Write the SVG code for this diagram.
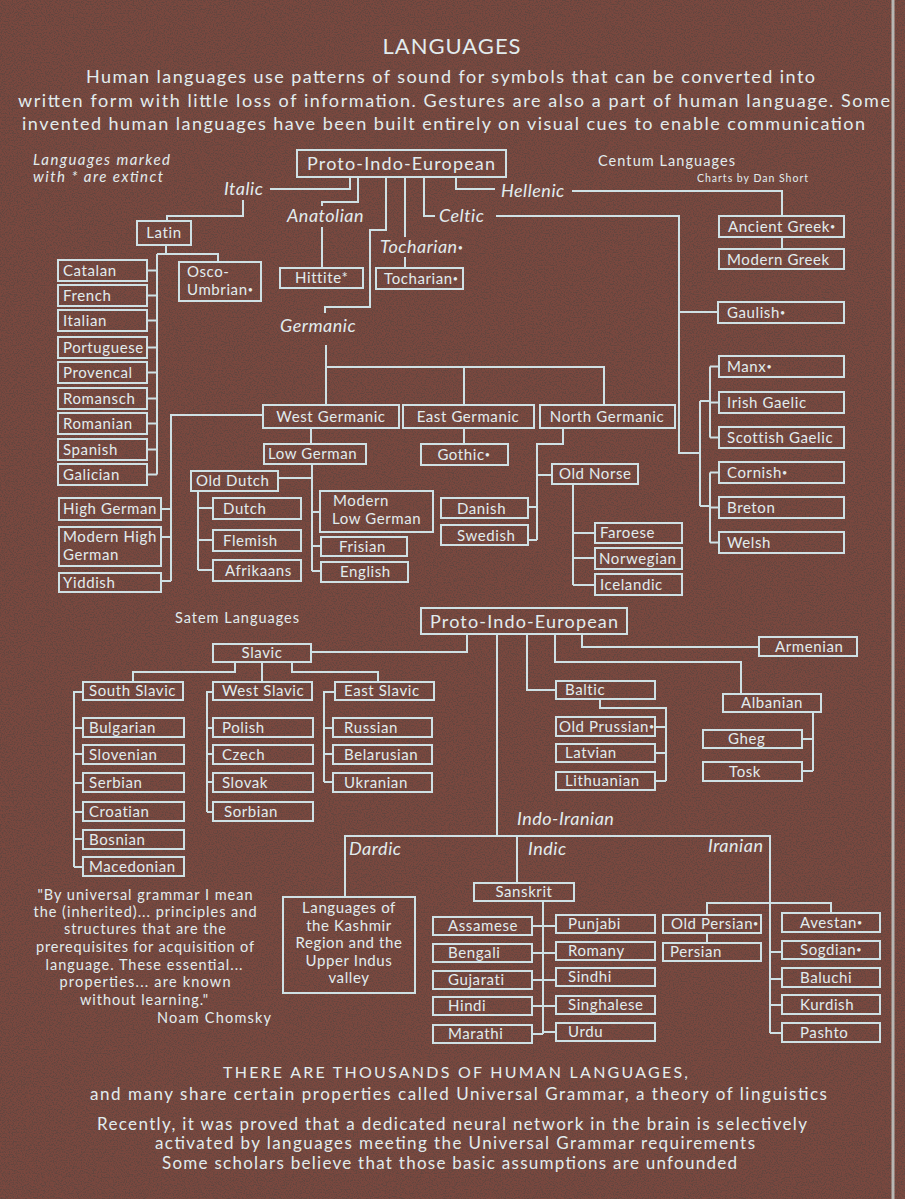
<svg xmlns="http://www.w3.org/2000/svg" width="905" height="1199" viewBox="0 0 905 1199">
<defs>
<filter id="granite" x="0" y="0" width="100%" height="100%">
<feTurbulence type="fractalNoise" baseFrequency="0.75" numOctaves="2" seed="7" result="n"/>
<feColorMatrix in="n" type="matrix" values="0 0 0 0 0.10  0 0 0 0 0.06  0 0 0 0 0.05  -4 0 0 0 2.25" result="dark"/>
<feColorMatrix in="n" type="matrix" values="0 0 0 0 0.72  0 0 0 0 0.45  0 0 0 0 0.40  0 -4 0 0 -1.9" result="light"/>
<feMerge><feMergeNode in="dark"/><feMergeNode in="light"/></feMerge>
</filter>
<style>
.bx{fill:none;stroke:#cfe1e5;stroke-width:2}
.cn path{fill:none;stroke:#cfe1e5;stroke-width:2}
text{font-family:Lato,"Open Sans","Liberation Sans",sans-serif;fill:#e2ecee}
.t{font-size:15px;letter-spacing:0.6px}
.c{text-anchor:middle}
.it{font-size:18px;font-style:italic;letter-spacing:0.5px}
.hd{font-size:18px}
.sm{font-size:14.5px}
.d{font-size:9px;baseline-shift:2px}
</style>
</defs>
<rect x="0" y="0" width="905" height="1199" fill="#7a483f"/>
<rect x="0" y="0" width="905" height="1199" filter="url(#granite)" opacity="0.7"/>
<line x1="893" y1="0" x2="893" y2="1199" stroke="#c9d2cf" stroke-width="3" opacity="0.8"/>

<g id="header">
<text x="452" y="54" text-anchor="middle" style="font-size:22px;letter-spacing:1px">LANGUAGES</text>
<text x="86" y="83" class="hd" textLength="729">Human languages use patterns of sound for symbols that can be converted into</text>
<text x="18" y="107" class="hd" textLength="872">written form with little loss of information. Gestures are also a part of human language. Some</text>
<text x="22" y="130" class="hd" textLength="843">invented human languages have been built entirely on visual cues to enable communication</text>
</g>

<g id="legend">
<text x="33" y="165" style="font-size:15px;font-style:italic" textLength="137">Languages marked</text>
<text x="33" y="182" style="font-size:15px;font-style:italic" textLength="130">with * are extinct</text>
<text x="598" y="166" class="sm" textLength="137">Centum Languages</text>
<text x="697" y="182" style="font-size:10.5px" textLength="111">Charts by Dan Short</text>
<text x="175" y="623" class="sm" textLength="124">Satem Languages</text>
</g>

<g class="cn" id="connectors">
<path d="M350,177 V189 H270"/>
<path d="M243,200 V216 H167 V221"/>
<path d="M166,245 V254 M157,254 H218 V262 M157,254 V474.5"/>
<path d="M147,270.5 H157 M147,295.5 H157 M147,320.5 H157 M147,347.5 H157 M147,372.5 H157 M147,398.5 H157 M147,423.5 H157 M147,449.5 H157 M147,474.5 H157"/>
<path d="M358,177 V202 H322 V206 M322,227 V268"/>
<path d="M386,177 V230 H370 V307 H325 V313"/>
<path d="M405,177 V237 M405,257 V268"/>
<path d="M424,177 V216 H435 M496,216 H679 V453 H700 M679,312 H718"/>
<path d="M700,401 V506 M700,401 H710 M710,366.5 V437.5 M710,366.5 H719 M710,402.5 H719 M710,437.5 H719"/>
<path d="M700,506 H710 M710,472.5 V542.5 M710,472.5 H719 M710,507.5 H719 M710,542.5 H719"/>
<path d="M456,177 V189 H495 M572,191 H782 V216 M782,237 V249"/>
<path d="M326,345 V405 M326,367 H604 V405 M464,367 V405"/>
<path d="M311,428 V444"/>
<path d="M263,415 H171 V581 M161,509 H171 M161,537 H171 M161,581 H171"/>
<path d="M312,464 V571 M278,478 H312 M312,512 H320 M312,546 H321 M312,571 H321"/>
<path d="M198,491 V570 M198,508 H213 M198,540 H213 M198,570 H213"/>
<path d="M464,428 V444"/>
<path d="M563,428 V444 H537 V540 M537,475 H552 M528,507 H537 M528,540 H537"/>
<path d="M573,484 V585 M573,533 H595 M573,558 H595 M573,585 H595"/>
<path d="M467,634 V652 H311"/>
<path d="M497,634 V836"/>
<path d="M527,634 V690 H556"/>
<path d="M555,634 V662 H741 V694"/>
<path d="M582,634 V647 H759"/>
<path d="M600,699 V708 H666 V781 M655,727 H666 M655,753 H666 M655,781 H666"/>
<path d="M813,712 V771 M802,739 H813 M802,771 H813"/>
<path d="M235,662 V672 H133 V682 M262,662 V682 M292,662 V672 H378 V682"/>
<path d="M83,692 H74 V867 M74,728 H83 M74,754 H83 M74,783 H83 M74,812 H83 M74,839 H83 M74,867 H83"/>
<path d="M213,692 H207 V812 M207,728 H213 M207,754 H213 M207,782 H213 M207,812 H213"/>
<path d="M335,692 H324 V782 M324,728 H333 M324,754 H333 M324,782 H333"/>
<path d="M345,897 V836 H770 V1033 M517,836 V883"/>
<path d="M543,901 V1034 M532,926 H556 M532,953 H556 M532,980 H556 M532,1006 H556 M532,1034 H543 M543,1032 H556"/>
<path d="M707,915 V903 H831 V913 M707,933 V943 M770,952 H782 M770,979 H782 M770,1005 H782 M770,1033 H782"/>
</g>

<g id="labels">
<text x="224" y="195" class="it">Italic</text>
<text x="287" y="222" class="it">Anatolian</text>
<text x="380" y="253" class="it">Tocharian<tspan class="d">•</tspan></text>
<text x="439" y="222" class="it">Celtic</text>
<text x="501" y="197" class="it">Hellenic</text>
<text x="280" y="332" class="it">Germanic</text>
<text x="517" y="825" class="it">Indo-Iranian</text>
<text x="349" y="855" class="it">Dardic</text>
<text x="528" y="855" class="it">Indic</text>
<text x="708" y="852" class="it">Iranian</text>
</g>

<g id="pie-centum"><rect class="bx" x="297" y="150" width="209" height="27"/><text x="401" y="170" class="c" style="font-size:18px" textLength="188">Proto-Indo-European</text></g>
<g id="latin"><rect class="bx" x="137" y="221" width="54" height="24"/><text x="164" y="238" class="t c">Latin</text></g>
<g id="osco-umbrian"><rect class="bx" x="179" y="262" width="82" height="39"/><text x="187" y="277" class="t">Osco-</text><text x="187" y="295" class="t">Umbrian<tspan class="d">•</tspan></text></g>
<g id="catalan"><rect class="bx" x="58" y="260" width="89" height="21"/><text x="63" y="276" class="t">Catalan</text></g>
<g id="french"><rect class="bx" x="58" y="285" width="89" height="21"/><text x="63" y="301" class="t">French</text></g>
<g id="italian"><rect class="bx" x="58" y="310" width="89" height="21"/><text x="63" y="326" class="t">Italian</text></g>
<g id="portuguese"><rect class="bx" x="58" y="337" width="89" height="21"/><text x="63" y="353" class="t">Portuguese</text></g>
<g id="provencal"><rect class="bx" x="58" y="362" width="89" height="21"/><text x="63" y="378" class="t">Provencal</text></g>
<g id="romansch"><rect class="bx" x="58" y="388" width="89" height="21"/><text x="63" y="404" class="t">Romansch</text></g>
<g id="romanian"><rect class="bx" x="58" y="413" width="89" height="21"/><text x="63" y="429" class="t">Romanian</text></g>
<g id="spanish"><rect class="bx" x="58" y="439" width="89" height="21"/><text x="63" y="455" class="t">Spanish</text></g>
<g id="galician"><rect class="bx" x="58" y="464" width="89" height="21"/><text x="63" y="480" class="t">Galician</text></g>
<g id="hittite"><rect class="bx" x="280" y="268" width="83" height="20"/><text x="295" y="283" class="t">Hittite*</text></g>
<g id="tocharian"><rect class="bx" x="376" y="268" width="87" height="21"/><text x="384" y="284" class="t">Tocharian<tspan class="d">•</tspan></text></g>
<g id="ancient-greek"><rect class="bx" x="719" y="216" width="125" height="21"/><text x="728" y="232" class="t">Ancient Greek<tspan class="d">•</tspan></text></g>
<g id="modern-greek"><rect class="bx" x="719" y="249" width="125" height="20"/><text x="727" y="265" class="t">Modern Greek</text></g>
<g id="gaulish"><rect class="bx" x="718" y="302" width="126" height="21"/><text x="727" y="318" class="t">Gaulish<tspan class="d">•</tspan></text></g>
<g id="manx"><rect class="bx" x="719" y="356" width="125" height="21"/><text x="727" y="372" class="t">Manx<tspan class="d">•</tspan></text></g>
<g id="irish-gaelic"><rect class="bx" x="719" y="392" width="125" height="21"/><text x="727" y="408" class="t">Irish Gaelic</text></g>
<g id="scottish-gaelic"><rect class="bx" x="719" y="427" width="125" height="21"/><text x="727" y="443" class="t">Scottish Gaelic</text></g>
<g id="cornish"><rect class="bx" x="719" y="462" width="125" height="21"/><text x="727" y="478" class="t">Cornish<tspan class="d">•</tspan></text></g>
<g id="breton"><rect class="bx" x="719" y="497" width="125" height="21"/><text x="727" y="513" class="t">Breton</text></g>
<g id="welsh"><rect class="bx" x="719" y="532" width="125" height="21"/><text x="727" y="548" class="t">Welsh</text></g>

<g id="west-germanic"><rect class="bx" x="263" y="405" width="136" height="23"/><text x="331" y="422" class="t c">West Germanic</text></g>
<g id="east-germanic"><rect class="bx" x="403" y="405" width="131" height="23"/><text x="468" y="422" class="t c">East Germanic</text></g>
<g id="north-germanic"><rect class="bx" x="540" y="405" width="135" height="23"/><text x="607" y="422" class="t c">North Germanic</text></g>
<g id="low-german"><rect class="bx" x="264" y="444" width="102" height="20"/><text x="268" y="459" class="t">Low German</text></g>
<g id="gothic"><rect class="bx" x="421" y="444" width="87" height="21"/><text x="464" y="460" class="t c">Gothic<tspan class="d">•</tspan></text></g>
<g id="old-dutch"><rect class="bx" x="191" y="471" width="87" height="20"/><text x="196" y="486" class="t">Old Dutch</text></g>
<g id="dutch"><rect class="bx" x="213" y="498" width="88" height="21"/><text x="223" y="514" class="t">Dutch</text></g>
<g id="flemish"><rect class="bx" x="213" y="530" width="88" height="21"/><text x="223" y="546" class="t">Flemish</text></g>
<g id="afrikaans"><rect class="bx" x="213" y="560" width="88" height="21"/><text x="225" y="576" class="t">Afrikaans</text></g>
<g id="modern-low-german"><rect class="bx" x="320" y="491" width="113" height="41"/><text x="333" y="506" class="t">Modern</text><text x="332" y="524" class="t">Low German</text></g>
<g id="frisian"><rect class="bx" x="321" y="537" width="86" height="19"/><text x="339" y="552" class="t">Frisian</text></g>
<g id="english"><rect class="bx" x="321" y="562" width="87" height="20"/><text x="340" y="577" class="t">English</text></g>
<g id="high-german"><rect class="bx" x="59" y="498" width="102" height="22"/><text x="63" y="514" class="t">High German</text></g>
<g id="modern-high-german"><rect class="bx" x="59" y="527" width="102" height="39"/><text x="63" y="542" class="t">Modern High</text><text x="63" y="560" class="t">German</text></g>
<g id="yiddish"><rect class="bx" x="59" y="573" width="102" height="19"/><text x="63" y="588" class="t">Yiddish</text></g>
<g id="old-norse"><rect class="bx" x="552" y="464" width="86" height="20"/><text x="559" y="479" class="t">Old Norse</text></g>
<g id="danish"><rect class="bx" x="441" y="498" width="87" height="20"/><text x="457" y="514" class="t">Danish</text></g>
<g id="swedish"><rect class="bx" x="441" y="525" width="87" height="20"/><text x="457" y="541" class="t">Swedish</text></g>
<g id="faroese"><rect class="bx" x="595" y="523" width="87" height="20"/><text x="600" y="538" class="t">Faroese</text></g>
<g id="norwegian"><rect class="bx" x="595" y="548" width="87" height="21"/><text x="599" y="564" class="t">Norwegian</text></g>
<g id="icelandic"><rect class="bx" x="595" y="574" width="87" height="21"/><text x="600" y="590" class="t">Icelandic</text></g>

<g id="pie-satem"><rect class="bx" x="421" y="608" width="206" height="26"/><text x="524" y="628" class="c" style="font-size:18px" textLength="188">Proto-Indo-European</text></g>
<g id="slavic"><rect class="bx" x="213" y="644" width="98" height="18"/><text x="262" y="658" class="t c">Slavic</text></g>
<g id="armenian"><rect class="bx" x="759" y="637" width="98" height="19"/><text x="775" y="652" class="t">Armenian</text></g>
<g id="baltic"><rect class="bx" x="556" y="681" width="99" height="18"/><text x="565" y="695" class="t">Baltic</text></g>
<g id="albanian"><rect class="bx" x="723" y="694" width="98" height="18"/><text x="772" y="708" class="t c">Albanian</text></g>
<g id="old-prussian"><rect class="bx" x="556" y="717" width="99" height="19"/><text x="559" y="732" class="t">Old Prussian<tspan class="d">•</tspan></text></g>
<g id="latvian"><rect class="bx" x="556" y="744" width="99" height="18"/><text x="565" y="758" class="t">Latvian</text></g>
<g id="lithuanian"><rect class="bx" x="556" y="772" width="99" height="18"/><text x="565" y="786" class="t">Lithuanian</text></g>
<g id="gheg"><rect class="bx" x="703" y="730" width="99" height="18"/><text x="728" y="744" class="t">Gheg</text></g>
<g id="tosk"><rect class="bx" x="703" y="762" width="99" height="19"/><text x="729" y="777" class="t">Tosk</text></g>
<g id="south-slavic"><rect class="bx" x="83" y="682" width="100" height="18"/><text x="89" y="696" class="t">South Slavic</text></g>
<g id="west-slavic"><rect class="bx" x="213" y="682" width="99" height="18"/><text x="222" y="696" class="t">West Slavic</text></g>
<g id="east-slavic"><rect class="bx" x="335" y="682" width="99" height="18"/><text x="344" y="696" class="t">East Slavic</text></g>
<g id="bulgarian"><rect class="bx" x="83" y="718" width="101" height="19"/><text x="89" y="733" class="t">Bulgarian</text></g>
<g id="slovenian"><rect class="bx" x="83" y="745" width="101" height="19"/><text x="89" y="760" class="t">Slovenian</text></g>
<g id="serbian"><rect class="bx" x="83" y="773" width="101" height="19"/><text x="89" y="788" class="t">Serbian</text></g>
<g id="croatian"><rect class="bx" x="83" y="802" width="101" height="19"/><text x="89" y="817" class="t">Croatian</text></g>
<g id="bosnian"><rect class="bx" x="83" y="830" width="101" height="19"/><text x="89" y="845" class="t">Bosnian</text></g>
<g id="macedonian"><rect class="bx" x="83" y="857" width="101" height="19"/><text x="89" y="872" class="t">Macedonian</text></g>
<g id="polish"><rect class="bx" x="213" y="718" width="100" height="19"/><text x="222" y="733" class="t">Polish</text></g>
<g id="czech"><rect class="bx" x="213" y="745" width="100" height="19"/><text x="222" y="760" class="t">Czech</text></g>
<g id="slovak"><rect class="bx" x="213" y="773" width="100" height="19"/><text x="222" y="788" class="t">Slovak</text></g>
<g id="sorbian"><rect class="bx" x="213" y="802" width="100" height="19"/><text x="224" y="817" class="t">Sorbian</text></g>
<g id="russian"><rect class="bx" x="333" y="718" width="99" height="19"/><text x="344" y="733" class="t">Russian</text></g>
<g id="belarusian"><rect class="bx" x="333" y="745" width="99" height="19"/><text x="344" y="760" class="t">Belarusian</text></g>
<g id="ukranian"><rect class="bx" x="333" y="773" width="99" height="19"/><text x="344" y="788" class="t">Ukranian</text></g>

<g id="dardic-box"><rect class="bx" x="283" y="897" width="132" height="96"/>
<text x="349" y="913" class="t c">Languages of</text>
<text x="349" y="931" class="t c">the Kashmir</text>
<text x="349" y="948" class="t c">Region and the</text>
<text x="349" y="966" class="t c">Upper Indus</text>
<text x="349" y="983" class="t c">valley</text></g>
<g id="sanskrit"><rect class="bx" x="474" y="883" width="100" height="18"/><text x="524" y="897" class="t c">Sanskrit</text></g>
<g id="assamese"><rect class="bx" x="433" y="917" width="99" height="18"/><text x="448" y="931" class="t">Assamese</text></g>
<g id="bengali"><rect class="bx" x="433" y="944" width="99" height="18"/><text x="448" y="958" class="t">Bengali</text></g>
<g id="gujarati"><rect class="bx" x="433" y="971" width="99" height="18"/><text x="448" y="985" class="t">Gujarati</text></g>
<g id="hindi"><rect class="bx" x="433" y="997" width="99" height="18"/><text x="448" y="1011" class="t">Hindi</text></g>
<g id="marathi"><rect class="bx" x="433" y="1025" width="99" height="18"/><text x="448" y="1039" class="t">Marathi</text></g>
<g id="punjabi"><rect class="bx" x="556" y="915" width="99" height="18"/><text x="568" y="929" class="t">Punjabi</text></g>
<g id="romany"><rect class="bx" x="556" y="942" width="99" height="18"/><text x="568" y="956" class="t">Romany</text></g>
<g id="sindhi"><rect class="bx" x="556" y="968" width="99" height="18"/><text x="568" y="982" class="t">Sindhi</text></g>
<g id="singhalese"><rect class="bx" x="556" y="996" width="99" height="18"/><text x="568" y="1010" class="t">Singhalese</text></g>
<g id="urdu"><rect class="bx" x="556" y="1023" width="99" height="18"/><text x="568" y="1037" class="t">Urdu</text></g>
<g id="old-persian"><rect class="bx" x="663" y="915" width="98" height="18"/><text x="671" y="929" class="t">Old Persian<tspan class="d">•</tspan></text></g>
<g id="persian"><rect class="bx" x="663" y="943" width="98" height="18"/><text x="670" y="957" class="t">Persian</text></g>
<g id="avestan"><rect class="bx" x="782" y="913" width="98" height="19"/><text x="800" y="928" class="t">Avestan<tspan class="d">•</tspan></text></g>
<g id="sogdian"><rect class="bx" x="782" y="941" width="98" height="18"/><text x="800" y="955" class="t">Sogdian<tspan class="d">•</tspan></text></g>
<g id="baluchi"><rect class="bx" x="782" y="968" width="98" height="19"/><text x="800" y="983" class="t">Baluchi</text></g>
<g id="kurdish"><rect class="bx" x="782" y="995" width="98" height="19"/><text x="800" y="1010" class="t">Kurdish</text></g>
<g id="pashto"><rect class="bx" x="782" y="1023" width="98" height="19"/><text x="800" y="1038" class="t">Pashto</text></g>

<g id="quote" class="sm">
<text x="145" y="900" text-anchor="middle" textLength="215">"By universal grammar I mean</text>
<text x="145" y="917" text-anchor="middle" textLength="223">the (inherited)... principles and</text>
<text x="145" y="934" text-anchor="middle" textLength="162">structures that are the</text>
<text x="145" y="952" text-anchor="middle" textLength="218">prerequisites for acquisition of</text>
<text x="144" y="970" text-anchor="middle" textLength="197">language. These essential...</text>
<text x="145" y="987" text-anchor="middle" textLength="171">properties... are known</text>
<text x="144" y="1005" text-anchor="middle" textLength="128">without learning."</text>
<text x="214" y="1023" text-anchor="middle" textLength="114">Noam Chomsky</text>
</g>

<g id="footer" class="hd">
<text x="223" y="1078" style="font-size:16px" textLength="465">THERE ARE THOUSANDS OF HUMAN LANGUAGES,</text>
<text x="90" y="1100" style="font-size:17px" textLength="737">and many share certain properties called Universal Grammar, a theory of linguistics</text>
<text x="97" y="1130" style="font-size:17px" textLength="710">Recently, it was proved that a dedicated neural network in the brain is selectively</text>
<text x="155" y="1149" style="font-size:17px" textLength="600">activated by languages meeting the Universal Grammar requirements</text>
<text x="162" y="1169" style="font-size:17px" textLength="575">Some scholars believe that those basic assumptions are unfounded</text>
</g>
</svg>
